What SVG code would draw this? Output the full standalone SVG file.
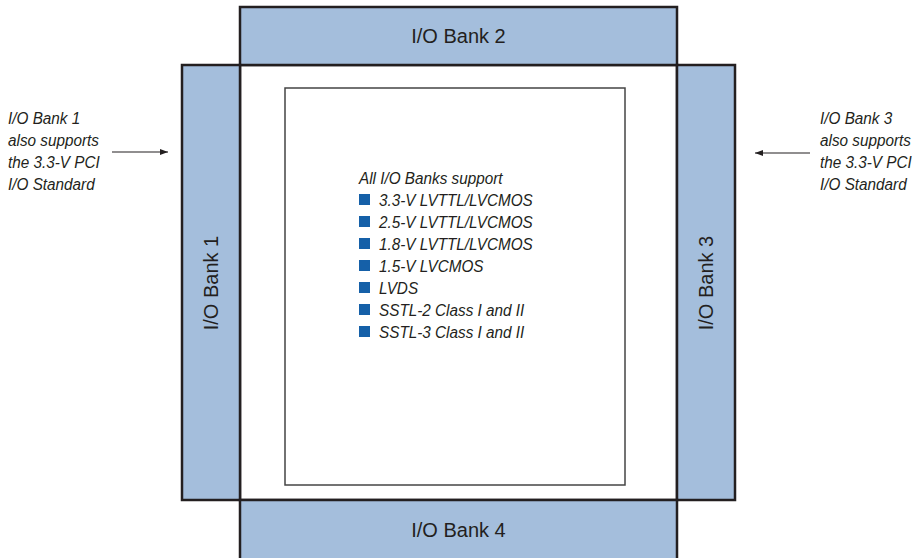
<svg xmlns="http://www.w3.org/2000/svg" width="918" height="558" viewBox="0 0 918 558">
<style>
.bank{fill:#a4bedc;stroke:#231f20;stroke-width:2.5}
.bl{font-family:"Liberation Sans",Arial,sans-serif;font-size:20px;fill:#231f20;text-anchor:middle}
.it{font-family:"Liberation Sans",Arial,sans-serif;font-size:17px;font-style:italic;fill:#231f20}
.sq{fill:#1560a8}
.ar{stroke:#231f20;stroke-width:1.2;fill:none}
</style>
<defs>
<marker id="ah" markerWidth="8" markerHeight="6" refX="8" refY="3" orient="auto" markerUnits="userSpaceOnUse">
<path d="M0,0 L8,3 L0,6 Z" fill="#231f20"/>
</marker>
</defs>
<rect x="0" y="0" width="918" height="558" fill="#fff"/>
<g id="chip">
<rect x="240" y="65" width="437" height="435" fill="#fff" stroke="#231f20" stroke-width="2.5"/>
<rect x="285" y="88" width="340" height="397" fill="#fff" stroke="#444" stroke-width="1.5"/>
</g>
<g id="bank2"><rect class="bank" x="240" y="7" width="437" height="58"/><text class="bl" x="458.5" y="43">I/O Bank 2</text></g>
<g id="bank1"><rect class="bank" x="182" y="65" width="58" height="435"/><text class="bl" transform="translate(218,283) rotate(-90)">I/O Bank 1</text></g>
<g id="bank3"><rect class="bank" x="677" y="65" width="58" height="435"/><text class="bl" transform="translate(713,283) rotate(-90)">I/O Bank 3</text></g>
<g id="bank4"><path class="bank" d="M240,560 V500 H677 V560"/><text class="bl" x="458.5" y="537">I/O Bank 4</text></g>
<g id="list">
<text class="it" transform="translate(359,184) scale(0.9,1)">All I/O Banks support</text>
<rect class="sq" x="359" y="194" width="11" height="11"/><text class="it" transform="translate(379,205.5) scale(0.9,1)">3.3-V LVTTL/LVCMOS</text>
<rect class="sq" x="359" y="216" width="11" height="11"/><text class="it" transform="translate(379,227.5) scale(0.9,1)">2.5-V LVTTL/LVCMOS</text>
<rect class="sq" x="359" y="238" width="11" height="11"/><text class="it" transform="translate(379,249.5) scale(0.9,1)">1.8-V LVTTL/LVCMOS</text>
<rect class="sq" x="359" y="260" width="11" height="11"/><text class="it" transform="translate(379,271.5) scale(0.9,1)">1.5-V LVCMOS</text>
<rect class="sq" x="359" y="282" width="11" height="11"/><text class="it" transform="translate(379,293.5) scale(0.9,1)">LVDS</text>
<rect class="sq" x="359" y="304" width="11" height="11"/><text class="it" transform="translate(379,315.5) scale(0.9,1)">SSTL-2 Class I and II</text>
<rect class="sq" x="359" y="326" width="11" height="11"/><text class="it" transform="translate(379,337.5) scale(0.9,1)">SSTL-3 Class I and II</text>
</g>
<g id="note1">
<text class="it" transform="translate(8,124) scale(0.9,1)">I/O Bank 1</text>
<text class="it" transform="translate(8,146) scale(0.9,1)">also supports</text>
<text class="it" transform="translate(8,168) scale(0.9,1)">the 3.3-V PCI</text>
<text class="it" transform="translate(8,190) scale(0.9,1)">I/O Standard</text>
</g>
<g id="note3">
<text class="it" transform="translate(820,124) scale(0.9,1)">I/O Bank 3</text>
<text class="it" transform="translate(820,146) scale(0.9,1)">also supports</text>
<text class="it" transform="translate(820,168) scale(0.9,1)">the 3.3-V PCI</text>
<text class="it" transform="translate(820,190) scale(0.9,1)">I/O Standard</text>
</g>
<g id="connectors">
<line class="ar" x1="112" y1="152" x2="168" y2="152" marker-end="url(#ah)"/>
<line class="ar" x1="810" y1="153" x2="755" y2="153" marker-end="url(#ah)"/>
</g>
</svg>
